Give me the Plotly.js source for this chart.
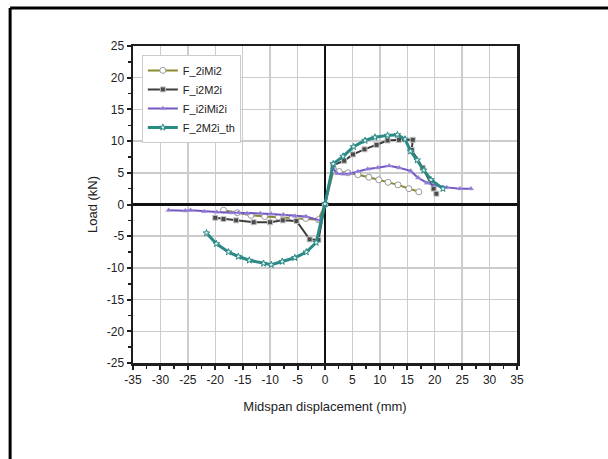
<!DOCTYPE html>
<html>
<head>
<meta charset="utf-8">
<script src="https://cdn.plot.ly/plotly-3.0.1.min.js"></script>
<style>html,body{margin:0;padding:0;background:#fff;}#chart{width:608px;height:459px;}</style>
</head>
<body>
<div id="chart"></div>
<script>
// ---- Data ----
const seriesNames = ["F_2iMi2", "F_i2M2i", "F_i2iMi2i", "F_2M2i_th"];

const f2iMi2_x = [-18.5, -16, -13.5, -11, -8.5, -6, -3.5, -1.2, 0, 1.6, 2.6, 4.2, 6.0, 8.0, 9.8, 11.5, 13.3, 15.3, 17.1];
const f2iMi2_y = [-0.9, -1.3, -1.7, -1.9, -2.0, -2.1, -2.2, -2.4, 0, 5.5, 5.2, 5.0, 4.7, 4.3, 3.9, 3.5, 3.1, 2.5, 2.0];

const fi2M2i_x = [-20, -18.5, -16.2, -13, -10, -7.7, -5.2, -2.8, -1.2, 0, 1.5, 3.5, 5.1, 7.2, 9.4, 11.4, 13.5, 16.0, 15.8, 17.8, 19.8, 20.3];
const fi2M2i_y = [-2.1, -2.3, -2.5, -2.8, -2.8, -2.5, -2.6, -5.5, -5.6, 0, 6.2, 6.9, 7.9, 8.7, 9.4, 10.1, 10.2, 10.2, 8.6, 5.8, 2.5, 1.7];

const fi2iMi2i_x = [-28.5, -25.5, -24.5, -22, -19.7, -17, -15.8, -14.2, -11.8, -9.8, -7.6, -5.5, -3.5, -0.9, 0, 1.4, 2.2, 3.4, 4.6, 6.0, 7.8, 9.6, 11.7, 13.5, 15.6, 17.0, 18.6, 20.3, 22.2, 24.6, 26.6];
const fi2iMi2i_y = [-0.9, -1.0, -0.9, -1.1, -1.2, -1.3, -1.3, -1.4, -1.4, -1.5, -1.6, -1.8, -1.9, -2.5, 0, 5.8, 4.9, 4.8, 4.9, 5.2, 5.6, 5.8, 6.1, 5.8, 5.3, 4.2, 3.4, 3.0, 2.7, 2.5, 2.5];

const f2M2i_th_x = [-21.6, -19.8, -17.6, -15.8, -13.8, -11.2, -9.8, -7.8, -5.5, -3.4, -1.6, 0, 1.5, 3.3, 5.2, 7.3, 9.1, 11.4, 13.2, 14.6, 15.6, 16.8, 18.0, 19.3, 21.5];
const f2M2i_th_y = [-4.5, -6.2, -7.5, -8.2, -8.8, -9.3, -9.5, -9.0, -8.4, -7.5, -6.0, 0.1, 6.4, 7.6, 9.1, 10.1, 10.6, 10.9, 11.0, 10.3, 8.4, 7.0, 5.4, 3.9, 2.5];

const xTicks = [-35, -30, -25, -20, -15, -10, -5, 0, 5, 10, 15, 20, 25, 30, 35];
const yTicks = [-25, -20, -15, -10, -5, 0, 5, 10, 15, 20, 25];

// ---- Traces ----
const traces = [
  {
    x: f2iMi2_x, y: f2iMi2_y, name: seriesNames[0], type: "scatter", mode: "lines+markers",
    line: {color: "#8a8a2e", width: 2},
    marker: {symbol: "circle", size: 6, color: "#ffffff", line: {color: "#9a9a9a", width: 1}}
  },
  {
    x: fi2M2i_x, y: fi2M2i_y, name: seriesNames[1], type: "scatter", mode: "lines+markers",
    line: {color: "#3d3d3d", width: 2},
    marker: {symbol: "square", size: 5, color: "#4a4a4a", line: {color: "#c4c4c4", width: 1}}
  },
  {
    x: fi2iMi2i_x, y: fi2iMi2i_y, name: seriesNames[2], type: "scatter", mode: "lines+markers",
    line: {color: "#7458c2", width: 2},
    marker: {symbol: "triangle-up", size: 5, color: "#8a72d0", line: {color: "#b9aae6", width: 0.5}}
  },
  {
    x: f2M2i_th_x, y: f2M2i_th_y, name: seriesNames[3], type: "scatter", mode: "lines+markers",
    line: {color: "#2a8a86", width: 3},
    marker: {symbol: "star", size: 5, color: "#e8f4f3", line: {color: "#2a8a86", width: 1}}
  }
];

const axisCommon = {
  showline: true, mirror: true, linecolor: "#1e1e1e", linewidth: 2.5,
  showgrid: true, gridcolor: "#cccccc", gridwidth: 1.5,
  zeroline: true, zerolinecolor: "#111111", zerolinewidth: 2.5,
  ticks: "outside", ticklen: 4, tickwidth: 2, tickcolor: "#1e1e1e",
  tickfont: {family: "Liberation Sans, Arial, sans-serif", size: 12, color: "#222"},
  minor: {dtick: 2.5, ticks: "outside", ticklen: 3, tickwidth: 1.5, tickcolor: "#1e1e1e", showgrid: false},
  fixedrange: true
};

const layout = {
  width: 608, height: 459,
  margin: {l: 133, r: 91, t: 46, b: 96},
  paper_bgcolor: "#ffffff", plot_bgcolor: "#ffffff",
  showlegend: true,
  legend: {
    x: 0.023, y: 0.972, xanchor: "left", yanchor: "top",
    bgcolor: "#ffffff", bordercolor: "#cccccc", borderwidth: 1,
    font: {family: "Liberation Sans, Arial, sans-serif", size: 11, color: "#222"},
    itemwidth: 30, tracegroupgap: 0
  },
  xaxis: Object.assign({}, axisCommon, {
    range: [-35, 35], tickvals: xTicks, ticktext: xTicks.map(String),
    title: {text: "Midspan displacement (mm)", standoff: 16,
            font: {family: "Liberation Sans, Arial, sans-serif", size: 13, color: "#222"}}
  }),
  yaxis: Object.assign({}, axisCommon, {
    range: [-25, 25], tickvals: yTicks, ticktext: yTicks.map(String),
    title: {text: "Load (kN)", standoff: 6,
            font: {family: "Liberation Sans, Arial, sans-serif", size: 13, color: "#222"}}
  }),
  shapes: [
    {type: "line", xref: "paper", yref: "paper", x0: -0.32, x1: 1.3, y0: 1.12, y1: 1.12, line: {color: "#000", width: 3}},
    {type: "line", xref: "paper", yref: "paper", x0: -0.32, x1: -0.32, y0: 1.12, y1: -0.4, line: {color: "#000", width: 3}}
  ]
};

Plotly.newPlot("chart", traces, layout, {displayModeBar: false, staticPlot: true});
</script>
</body>
</html>
